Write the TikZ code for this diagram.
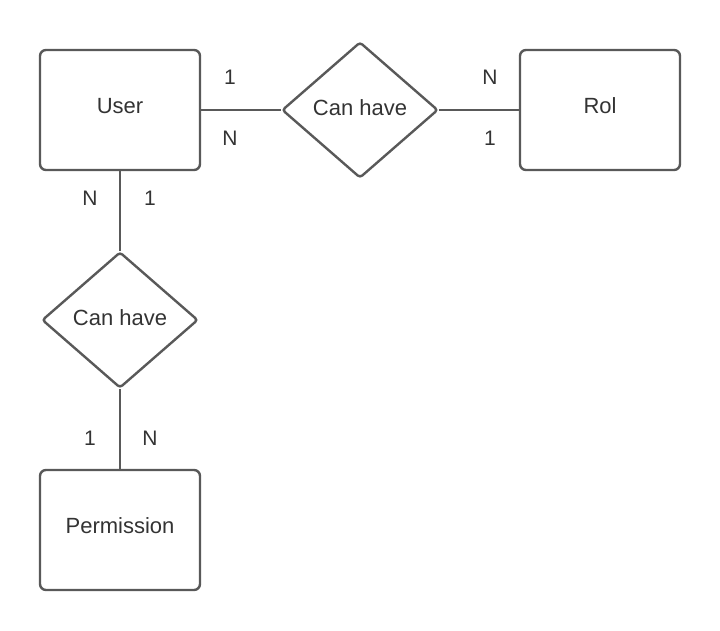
\documentclass[tikz,border=0pt]{standalone}
\usepackage{fontspec}
\setmainfont{Liberation Sans}
\usetikzlibrary{shapes.geometric}
\definecolor{edgegray}{HTML}{595959}
\definecolor{textgray}{HTML}{333333}
\tikzstyle{entity} = [rectangle, rounded corners=6pt, minimum width=160pt, minimum height=120pt, inner sep=0pt, text height=16pt, text depth=10pt, text centered, draw=edgegray, line width=2.4pt, text=textgray, font=\fontsize{22}{26}\selectfont]
\tikzstyle{relation} = [diamond, rounded corners=3pt, minimum width=156pt, minimum height=136pt, inner sep=0pt, text height=16pt, text depth=6pt, text centered, draw=edgegray, line width=2.4pt, text=textgray, font=\fontsize{22}{26}\selectfont]
\tikzstyle{card} = [inner sep=0pt, text=textgray, font=\fontsize{21}{25}\selectfont]
\tikzstyle{link} = [draw=edgegray, line width=2.4pt]

\begin{document}
\begin{tikzpicture}[x=1pt, y=1pt]
            \useasboundingbox (0,0) rectangle (720,-630);
            \node [entity] at (120,-110) (user) {User};
            \node [relation] at (360,-110) (hasrol) {Can have};
            \node [entity] at (600,-110) (rol) {Rol};
            \node [relation] at (120,-320) (hasperm) {Can have};
            \node [entity] at (120,-530) (perm) {Permission};
            \draw [link] (user) -- (hasrol);
            \draw [link] (hasrol) -- (rol);
            \draw [link] (user) -- (hasperm);
            \draw [link] (hasperm) -- (perm);
            \node [card] at (230,-77) (c1) {1};
            \node [card] at (230,-138) (c2) {N};
            \node [card] at (490,-77) (c3) {N};
            \node [card] at (490,-138) (c4) {1};
            \node [card] at (90,-198) (c5) {N};
            \node [card] at (150,-198) (c6) {1};
            \node [card] at (90,-438) (c7) {1};
            \node [card] at (150,-438) (c8) {N};
            \end{tikzpicture}
\end{document}
